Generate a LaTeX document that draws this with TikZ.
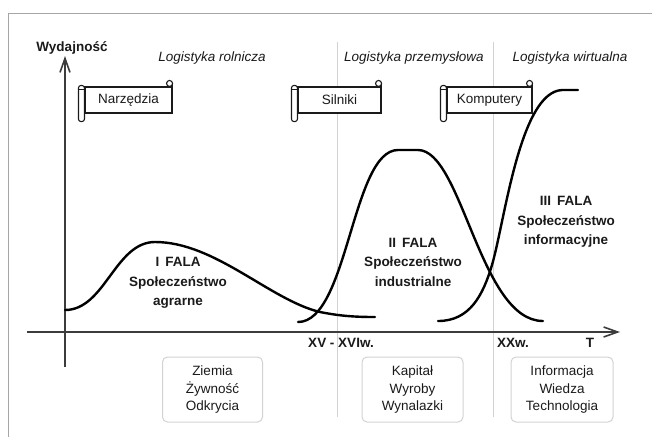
\documentclass[tikz,border=0pt]{standalone}
\usepackage{fontspec}
\setmainfont{Liberation Sans}
\usetikzlibrary{arrows.meta}
\definecolor{ink}{HTML}{1A1A1A}
\begin{document}
\begin{tikzpicture}[x=1pt,y=-1pt,
  font=\fontsize{13.5}{17.5}\selectfont,
  axis/.style={draw=ink!85, line width=1.8pt, -{Straight Barb[length=14pt,width=10pt,line width=1.6pt]}},
  wave/.style={draw=black, line width=2.4pt, line cap=round},
  sep/.style={draw=gray!35, line width=0.8pt},
  lbl/.style={text=ink, inner sep=0pt},
  era/.style={lbl, font=\fontsize{13.5}{17.5}\selectfont\itshape},
  fala/.style={lbl, align=center, font=\fontsize{13.5}{19.5}\selectfont\bfseries},
  period/.style={lbl, font=\fontsize{13.5}{17.5}\selectfont\bfseries},
  infobox/.style={draw=gray!35, line width=1pt, rounded corners=5pt, align=center, text=ink, minimum height=65pt, inner sep=0pt},
  scrollbox/.style={draw=ink, line width=1.1pt, fill=white, text=ink, minimum height=26pt, inner sep=0pt},
  rollpart/.style={draw=ink, line width=1.1pt, fill=white}
]
\useasboundingbox (0,0) rectangle (652,437);
% frame
\draw[gray!70, line width=1pt] (8,437) -- (8,13) -- (652,13);
% separators
\coordinate (s1t) at (337,42); \coordinate (s1b) at (337,417);
\coordinate (s2t) at (493,42); \coordinate (s2b) at (493,417);
\draw[sep] (s1t) -- (s1b);
\draw[sep] (s2t) -- (s2b);
% axes
\coordinate (xs) at (27,332); \coordinate (xe) at (620,332);
\coordinate (ys) at (65,367); \coordinate (ye) at (65,56);
\draw[axis] (xs) -- (xe);
\draw[axis] (ys) -- (ye);
\node[period] (wyd) at (72,48) {Wydajność};
\node[period] (tt) at (590,343) {T};
\node[period] (xv) at (341,343) {XV - XVIw.};
\node[period] (xx) at (513,343) {XXw.};
% era titles
\node[era] (e1) at (212,58) {Logistyka rolnicza};
\node[era] (e2) at (414,58) {Logistyka przemysłowa};
\node[era] (e3) at (570,58) {Logistyka wirtualna};
% scrolls
\foreach \nm/\cx/\w/\txt in {sa/128.5/87/Narzędzia, sb/339.5/83/Silniki, sc/489.5/85/Komputery}{
  \node[scrollbox, minimum width=\w pt] (\nm) at (\cx,100) {\txt};
  \draw[rollpart, rounded corners=2.5pt] ([xshift=-6pt,yshift=1pt]\nm.north west) rectangle ([yshift=-8pt]\nm.south west);
  \draw[ink, line width=0.8pt] ([xshift=-6pt,yshift=-2.5pt]\nm.north west) -- ([yshift=-2.5pt]\nm.north west);
  \draw[rollpart] ([xshift=-3pt,yshift=3pt]\nm.north east) circle (3pt);
  \draw[ink, line width=1.1pt] (\nm.north east) -- ([yshift=3pt]\nm.north east);
}
% waves
\draw[wave] (65,310) .. controls (105,310) and (115,242) .. (155,242)
  .. controls (215,242) and (270,300) .. (320,312)
  .. controls (340,316) and (355,317) .. (375,317);
\draw[wave] (298,322) .. controls (348,322) and (352,150) .. (398,150)
  -- (418,150) .. controls (462,150) and (480,321) .. (543,321);
\draw[wave] (438,321) .. controls (470,321) and (483,295) .. (492,265)
  .. controls (505,220) and (520,92) .. (562,90) -- (578,90);
% wave labels
\node[fala] (f1) at (178,283) {I\, FALA\\Społeczeństwo\\agrarne};
\node[fala] (f2) at (413,262) {II\, FALA\\Społeczeństwo\\industrialne};
\node[fala] (f3) at (566,222) {III\, FALA\\Społeczeństwo\\informacyjne};
% info boxes
\node[infobox, minimum width=100pt] (b1) at (212.5,389.5) {Ziemia\\Żywność\\Odkrycia};
\node[infobox, minimum width=101pt] (b2) at (412.5,389.5) {Kapitał\\Wyroby\\Wynalazki};
\node[infobox, minimum width=102pt] (b3) at (562,389.5) {Informacja\\Wiedza\\Technologia};
\end{tikzpicture}
\end{document}
